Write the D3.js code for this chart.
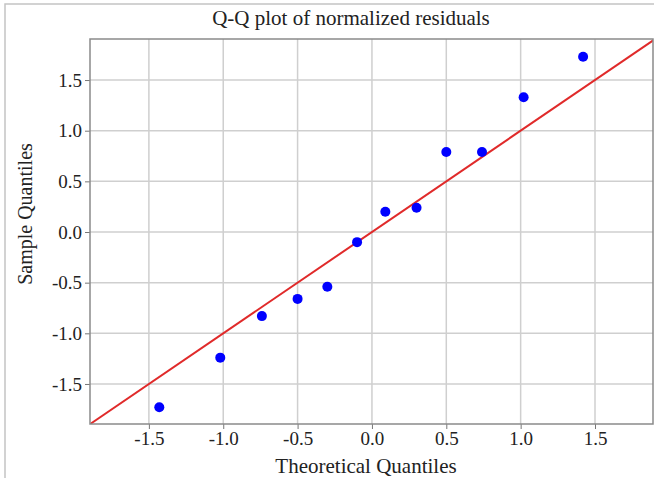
<!DOCTYPE html>
<html lang="en">
	<head>
		<meta charset="utf-8">
		<title>Q-Q plot of normalized residuals</title>
		<script type="text/javascript" src="https://cdnjs.cloudflare.com/ajax/libs/d3/7.8.5/d3.min.js"></script>
		<style type="text/css">
			body { margin: 0; background: #fff; }
			svg text { font-family: "Liberation Serif", "DejaVu Serif", serif; fill: #222; }
		</style>
	</head>
	<body>
		<script type="text/javascript">

			// data
			var theoretical = [-1.43, -1.02, -0.74, -0.50, -0.30, -0.10, 0.09, 0.30, 0.50, 0.74, 1.02, 1.42]
			var sample = [-1.73, -1.24, -0.83, -0.66, -0.54, -0.10, 0.20, 0.24, 0.79, 0.79, 1.33, 1.73]
			var tickValues = [-1.5, -1.0, -0.5, 0.0, 0.5, 1.0, 1.5]
			var refLine = [-1.9, 1.9]

			var w = 654
			var h = 478
			var pLeft = 90, pRight = 653, pTop = 39, pBottom = 424

			var xScale = d3.scaleLinear()
							.domain([-1.896, 1.89])
							.range([pLeft, pRight])

			var yScale = d3.scaleLinear()
							.domain([-1.895, 1.905])
							.range([pBottom, pTop])

			var svg = d3.select('body')
							.append('svg')
							.attr('width', w)
							.attr('height', h)

			// outer frame (only top and left show)
			svg.append('path')
				.attr('d', `M5,${h}V4H${w}`)
				.attr('fill', 'none')
				.attr('stroke', '#c4c4c4')
				.attr('stroke-width', 1.5)

			svg.append('clipPath').attr('id', 'clip')
				.append('rect')
				.attr('x', pLeft).attr('y', pTop)
				.attr('width', pRight - pLeft).attr('height', pBottom - pTop)

			// grid
			svg.append('g')
					.attr('stroke', '#cfcfcf')
					.attr('stroke-width', 1.5)
				.selectAll('line')
					.data(tickValues)
					.enter()
					.append('line')
					.attr('x1', d => xScale(d)).attr('x2', d => xScale(d))
					.attr('y1', pTop).attr('y2', pBottom)

			svg.append('g')
					.attr('stroke', '#cfcfcf')
					.attr('stroke-width', 1.5)
				.selectAll('line')
					.data(tickValues)
					.enter()
					.append('line')
					.attr('y1', d => yScale(d)).attr('y2', d => yScale(d))
					.attr('x1', pLeft).attr('x2', pRight)

			var fmt = d => d3.format('.1f')(d).replace('−', '-')

			var styleAxis = g => g
							.attr('font-family', null)
							.attr('font-size', 19)
							.call(g => g.select('.domain').remove())
							.call(g => g.selectAll('.tick line').attr('stroke', '#777'))
							.call(g => g.selectAll('.tick text')
								.attr('fill', '#222')
								.attr('font-family', '"Liberation Serif", serif'))

			var xAxis = g => g
							.attr('transform', `translate(0,${pBottom})`)
							.call(d3.axisBottom(xScale).tickValues(tickValues).tickFormat(fmt).tickSize(5).tickPadding(3))
							.call(styleAxis)

			var yAxis = g => g
							.attr('transform', `translate(${pLeft},0)`)
							.call(d3.axisLeft(yScale).tickValues(tickValues).tickFormat(fmt).tickSize(5).tickPadding(3))
							.call(styleAxis)

			svg.append('g').call(xAxis)
			svg.append('g').call(yAxis)

			// reference line
			svg.append('line')
				.attr('clip-path', 'url(#clip)')
				.attr('x1', xScale(refLine[0])).attr('y1', yScale(refLine[0]))
				.attr('x2', xScale(refLine[1])).attr('y2', yScale(refLine[1]))
				.attr('stroke', '#e02a2a')
				.attr('stroke-width', 2)

			// points
			svg.append('g')
					.attr('fill', '#0000ff')
				.selectAll('circle')
					.data(theoretical)
					.enter()
					.append('circle')
					.attr('cx', d => xScale(d))
					.attr('cy', (d, i) => yScale(sample[i]))
					.attr('r', 5)

			// plot border
			svg.append('rect')
				.attr('x', pLeft).attr('y', pTop)
				.attr('width', pRight - pLeft).attr('height', pBottom - pTop)
				.attr('fill', 'none')
				.attr('stroke', '#8a8a8a')
				.attr('stroke-width', 1.5)

			svg.append('text')
				.attr('x', 351).attr('y', 25)
				.attr('text-anchor', 'middle')
				.attr('font-size', 21)
				.text('Q-Q plot of normalized residuals')

			svg.append('text')
				.attr('x', 366).attr('y', 473)
				.attr('text-anchor', 'middle')
				.attr('font-size', 21)
				.text('Theoretical Quantiles')

			svg.append('text')
				.attr('transform', 'translate(32,214) rotate(-90)')
				.attr('text-anchor', 'middle')
				.attr('font-size', 20)
				.text('Sample Quantiles')
		</script>
	</body>
</html>
